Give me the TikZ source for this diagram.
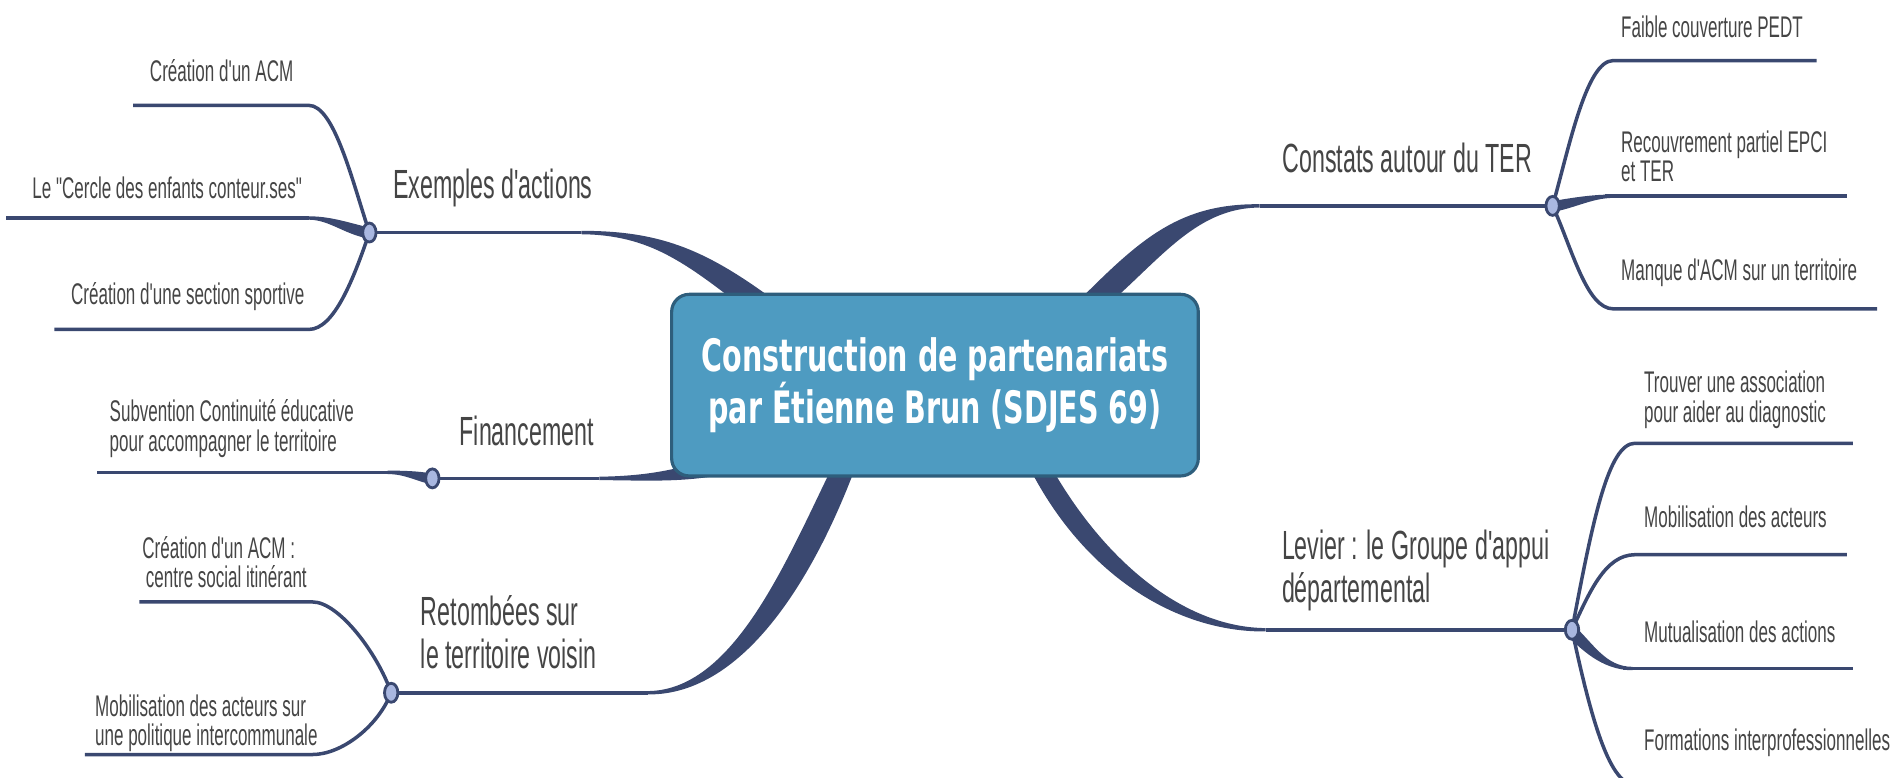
\documentclass[tikz,border=0pt]{standalone}
\usepackage{fontspec}
\setmainfont{Liberation Sans}[FakeStretch=0.57,Ligatures=TeXOff]
\newfontfamily\titlefont{DejaVu Sans}[FakeStretch=0.64]
\usetikzlibrary{positioning,shapes.geometric,backgrounds}
\definecolor{navy}{HTML}{3A4870}
\definecolor{hubblue}{HTML}{A9B7E0}
\definecolor{boxblue}{HTML}{4E9BC1}
\definecolor{boxedge}{HTML}{2E5E7C}
\definecolor{ink}{HTML}{454545}
\tikzset{
  topic/.style={text=ink,font=\fontsize{11.6}{12}\selectfont,align=left,inner sep=0pt},
  leaf/.style={text=ink,font=\fontsize{8.5}{8.4}\selectfont,align=left,inner sep=0pt},
  hub/.style={ellipse,draw=navy,line width=0.8pt,fill=hubblue,minimum width=3.8pt,minimum height=5.4pt,inner sep=0pt},
  link/.style={draw=navy,line width=1pt},
  rootbox/.style={draw=boxedge,fill=boxblue,line width=0.9pt,rounded corners=5pt,
    minimum width=149.9pt,minimum height=51.7pt,text=white,align=center,
    font=\titlefont\bfseries\fontsize{12.7}{14.6}\selectfont}
}
\begin{document}
\begin{tikzpicture}[x=0.01211cm,y=-0.01211cm]
\useasboundingbox (0,0) rectangle (1568,642);
\node[rootbox] (root) at (772,318) {Construction de partenariats\\par Étienne Brun (SDJES 69)};
% hubs
\node[hub] (h1) at (305,192) {};
\node[hub] (h2) at (357,395) {};
\node[hub] (h3) at (323,572) {};
\node[hub] (h4) at (1282,170) {};
\node[hub] (h5) at (1298,520) {};
% branch titles
\node[topic] (t1) at (407,155) {Exemples d'actions};
\node[topic] (t2) at (435,356) {Financement};
\node[topic,anchor=west] (t3) at (347,522) {Retombées sur\\le territoire voisin};
\node[topic] (t4) at (1162,130) {Constats autour du TER};
\node[topic,anchor=west] (t5) at (1058,471) {Levier : le Groupe d'appui\\départemental};
% leaves
\node[leaf] (l11) at (183,58) {Création d'un ACM};
\node[leaf] (l12) at (138,155) {Le "Cercle des enfants conteur.ses"};
\node[leaf] (l13) at (155,245) {Création d'une section sportive};
\node[leaf,anchor=west] (l21) at (90,354) {Subvention Continuité éducative\\pour accompagner le territoire};
\node[leaf,anchor=west] (l31) at (117,464) {Création d'un ACM :\\\hspace{1pt}centre social itinérant};
\node[leaf,anchor=west] (l32) at (78,597) {Mobilisation des acteurs sur\\une politique intercommunale};
\node[leaf,anchor=west] (l41) at (1338,22) {Faible couverture PEDT};
\node[leaf,anchor=west] (l42) at (1338,129) {Recouvrement partiel EPCI\\et TER};
\node[leaf,anchor=west] (l43) at (1338,225) {Manque d'ACM sur un territoire};
\node[leaf,anchor=west] (l51) at (1357,330) {Trouver une association\\pour aider au diagnostic};
\node[leaf,anchor=west] (l52) at (1357,427) {Mobilisation des acteurs};
\node[leaf,anchor=west] (l53) at (1357,522) {Mutualisation des actions};
\node[leaf,anchor=west] (l54) at (1357,613) {Formations interprofessionnelles};
\coordinate (b1) at (480,192);
\coordinate (b2) at (495,395);
\coordinate (b3) at (535,572);
\coordinate (b4) at (1040,170);
\coordinate (b5) at (1045,520);
\begin{scope}[on background layer]
% main branches
\draw[link] (h1) -- (b1);
\fill[navy] (480,190.6) .. controls (543,190.5) and (580,205) .. (634,244) -- (619,258) .. controls (566,217) and (537,194) .. (480,193.4) -- cycle;
\draw[link] (h2) -- (b2);
\fill[navy] (495,393.6) .. controls (540,393) and (568,386) .. (606,372) -- (614,388) .. controls (572,399) and (540,396.8) .. (495,396.4) -- cycle;
\draw[link] (h3) -- (b3);
\fill[navy] (535,570.6) .. controls (605,570) and (648,466) .. (686,388) -- (704,392) .. controls (672,475) and (615,574) .. (535,573.4) -- cycle;
\draw[link] (h4) -- (b4);
\fill[navy] (1040,168.6) .. controls (975,168) and (943,196) .. (893,246) -- (906,259) .. controls (955,219) and (985,171.5) .. (1040,171.4) -- cycle;
\draw[link] (h5) -- (b5);
\fill[navy] (1045,518.6) .. controls (978,518) and (912,464) .. (867,384) -- (853,392) .. controls (898,476) and (972,522) .. (1045,521.4) -- cycle;
% leaves of h1
\draw[link] (h1.center) .. controls (291,150) and (276,87) .. (255,87) -- (110,87);
\fill[navy] (305,188) .. controls (285,183) and (272,178.6) .. (255,178.6) -- (255,181.4) .. controls (272,181.4) and (285,194) .. (305,197) -- cycle;
\draw[link] (255,180) -- (5,180);
\draw[link] (h1.center) .. controls (292,230) and (276,272) .. (255,272) -- (45,272);
% leaves of h2
\fill[navy] (357,391) .. controls (345,389) and (335,388.6) .. (320,388.6) -- (320,391.4) .. controls (335,391.4) and (345,398) .. (357,400) -- cycle;
\draw[link] (320,390) -- (80,390);
% leaves of h3
\draw[link] (h3.center) .. controls (312,540) and (280,497) .. (258,497) -- (115,497);
\draw[link] (h3.center) .. controls (312,600) and (282,623) .. (258,623) -- (70,623);
% leaves of h4
\draw[link] (h4.center) .. controls (1296,120) and (1310,50) .. (1332,50) -- (1500,50);
\fill[navy] (1282,166) .. controls (1300,163) and (1315,160.6) .. (1332,160.6) -- (1332,163.4) .. controls (1315,163.4) and (1300,172) .. (1282,175) -- cycle;
\draw[link] (1325,162) -- (1525,162);
\draw[link] (h4.center) .. controls (1298,205) and (1310,255) .. (1332,255) -- (1550,255);
% leaves of h5
\draw[link] (h5.center) .. controls (1315,430) and (1328,366) .. (1350,366) -- (1530,366);
\draw[link] (h5.center) .. controls (1312,490) and (1325,458) .. (1350,458) -- (1525,458);
\fill[navy] (1298,515) .. controls (1315,530) and (1325,550.6) .. (1348,550.6) -- (1348,553.4) .. controls (1322,553.4) and (1305,535) .. (1294,525) -- cycle;
\draw[link] (1340,552) -- (1530,552);
\draw[link] (h5.center) .. controls (1315,600) and (1330,648) .. (1350,648) -- (1560,648);
\end{scope}
\end{tikzpicture}
\end{document}
